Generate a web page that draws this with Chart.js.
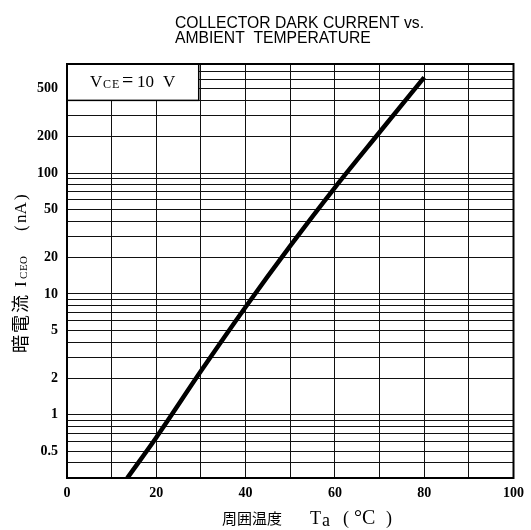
<!DOCTYPE html>
<html>
<head>
<meta charset="utf-8">
<script src="https://cdn.jsdelivr.net/npm/chart.js@4"></script>
<style>
  html, body { margin: 0; background: #fff; }
  #wrap { width: 531px; height: 530px; }
</style>
</head>
<body>
<div id="wrap"><canvas id="grafico"></canvas></div>
<script>
// dados (Ta em °C, ICEO em nA)
const temperaturas = [13.5, 20, 30, 40, 50, 60, 70, 80];
const correnteNA = [0.3, 0.65, 2.3, 7.8, 25, 76, 218, 620];

const gradeX = [0, 10, 20, 30, 40, 50, 60, 70, 80, 90, 100];
const rotulosX = [0, 20, 40, 60, 80, 100];
const gradeY = [0.3, 0.4, 0.5, 0.6, 0.7, 0.8, 0.9, 1, 2, 3, 4, 5, 6, 7, 8, 9,
  10, 20, 30, 40, 50, 60, 70, 80, 90, 100, 200, 300, 400, 500, 600, 700, 800];
const rotulosY = [0.5, 1, 2, 5, 10, 20, 50, 100, 200, 500];

// caixa da legenda "VCE=10 V" (em unidades do gráfico)
const caixaX = [0, 29.5];
const caixaY = [400, 800];

const fonteSerif = '"Liberation Serif", "DejaVu Serif", serif';
const fonteCJK = '"Noto Sans CJK JP", sans-serif';

const textos = {
  id: "textos",
  afterDraw(chart) {
    const ctx = chart.ctx;
    const area = chart.chartArea;
    const sx = chart.scales.x;
    const sy = chart.scales.y;

    // moldura
    ctx.save();
    ctx.strokeStyle = "#000";
    ctx.lineWidth = 2;
    ctx.strokeRect(area.left, area.top, area.right - area.left, area.bottom - area.top);

    // caixa VCE
    const x0 = sx.getPixelForValue(caixaX[0]);
    const x1 = sx.getPixelForValue(caixaX[1]);
    const y0 = sy.getPixelForValue(caixaY[1]);
    const y1 = sy.getPixelForValue(caixaY[0]);
    ctx.fillStyle = "#fff";
    ctx.fillRect(x0 + 1, y0 + 1, x1 - x0 - 1, y1 - y0 - 1);
    ctx.lineWidth = 1.5;
    ctx.strokeRect(x0, y0, x1 - x0, y1 - y0);

    ctx.fillStyle = "#000";
    ctx.textBaseline = "alphabetic";
    ctx.textAlign = "left";
    const base = y0 + 23;
    ctx.font = "17px " + fonteSerif;
    ctx.fillText("V", x0 + 23, base);
    ctx.fillText("10", x0 + 70, base);
    ctx.fillText("V", x0 + 96, base);
    ctx.font = "20px " + fonteSerif;
    ctx.fillText("=", x0 + 55, base);
    ctx.font = "12px " + fonteSerif;
    ctx.fillText("C", x0 + 36, base + 1);
    ctx.fillText("E", x0 + 45, base + 1);

    // título
    ctx.font = '15.7px "Liberation Sans", sans-serif';
    ctx.fillText("COLLECTOR DARK CURRENT vs.", 175, 28);
    ctx.fillText("AMBIENT  TEMPERATURE", 175, 43);

    // título do eixo x
    const ty = 524;
    ctx.font = "15px " + fonteCJK;
    ctx.fillText("周囲温度", 222, ty);
    ctx.font = "18px " + fonteSerif;
    ctx.fillText("T", 310, ty);
    ctx.fillText("a", 322, ty + 2);
    ctx.fillText("(", 343, ty);
    ctx.font = "20px " + fonteSerif;
    ctx.fillText("°C", 354, ty);
    ctx.font = "18px " + fonteSerif;
    ctx.fillText(")", 386, ty);

    // título do eixo y (girado)
    ctx.translate(26, 353);
    ctx.rotate(-Math.PI / 2);
    ctx.font = "18px " + fonteCJK;
    ["暗", "電", "流"].forEach((c, i) => ctx.fillText(c, i * 20, 1));
    ctx.font = "17px " + fonteSerif;
    ctx.fillText("I", 66, 0);
    ctx.font = "11px " + fonteSerif;
    ctx.fillText("C", 74, 1);
    ctx.fillText("E", 82, 1);
    ctx.fillText("O", 89, 1);
    ctx.font = "17px " + fonteSerif;
    ctx.fillText("(", 122, 0);
    ctx.fillText("nA", 130, 0);
    ctx.fillText(")", 153, 0);
    ctx.restore();
  }
};

new Chart(document.getElementById("grafico"), {
  type: "scatter",
  data: {
    datasets: [{
      data: temperaturas.map((t, i) => ({ x: t, y: correnteNA[i] })),
      showLine: true,
      borderColor: "#000",
      borderWidth: 4.5,
      pointRadius: 0,
      cubicInterpolationMode: "monotone"
    }]
  },
  options: {
    responsive: true,
    maintainAspectRatio: false,
    animation: false,
    layout: { padding: { top: 64, right: 12, left: 0, bottom: 0 } },
    plugins: { legend: { display: false }, tooltip: { enabled: false } },
    scales: {
      x: {
        type: "linear",
        min: 0,
        max: 100,
        afterBuildTicks: (s) => { s.ticks = gradeX.map(v => ({ value: v })); },
        afterFit: (s) => { s.height = 52; },
        grid: { color: "#111", lineWidth: 1, drawTicks: false },
        border: { color: "#000", width: 2 },
        ticks: {
          autoSkip: false,
          maxRotation: 0,
          padding: 7,
          color: "#000",
          font: { family: fonteSerif, size: 14, weight: "bold" },
          callback: (v) => rotulosX.includes(v) ? String(v) : ""
        }
      },
      y: {
        type: "logarithmic",
        min: 0.3,
        max: 800,
        afterBuildTicks: (s) => { s.ticks = gradeY.map(v => ({ value: v })); },
        afterFit: (s) => { s.width = 67; },
        grid: { color: "#111", lineWidth: 1, drawTicks: false },
        border: { color: "#000", width: 2 },
        ticks: {
          autoSkip: false,
          padding: 9,
          color: "#000",
          font: { family: fonteSerif, size: 14, weight: "bold" },
          callback: (v) => rotulosY.includes(v) ? String(v) : ""
        }
      }
    }
  },
  plugins: [textos]
});
</script>
</body>
</html>
